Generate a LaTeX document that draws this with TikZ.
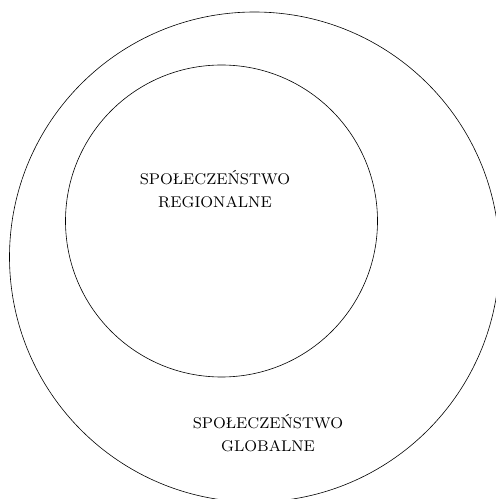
\documentclass[tikz,border=0pt]{standalone}
\usepackage{fontspec}
\newfontfamily\lmeight{lmroman8-regular}[Extension=.otf]
\tikzset{
  ring/.style={line width=0.6pt},
  label/.style={align=center, font=\lmeight\fontsize{15.5}{23}\selectfont}
}
\begin{document}
\begin{tikzpicture}[x=1pt,y=1pt]
        \useasboundingbox (0,0) rectangle (496,499);
        \coordinate (global) at (254.5,242);
        \coordinate (regional) at (221.5,278);
        \draw[ring] (global) circle (245);
        \draw[ring] (regional) circle (156);
        \node[label] (regtext) at (215,310) {SPOŁECZEŃSTWO\\REGIONALNE};
        \node[label] (globtext) at (268,66) {SPOŁECZEŃSTWO\\GLOBALNE};
    \end{tikzpicture}
\end{document}
